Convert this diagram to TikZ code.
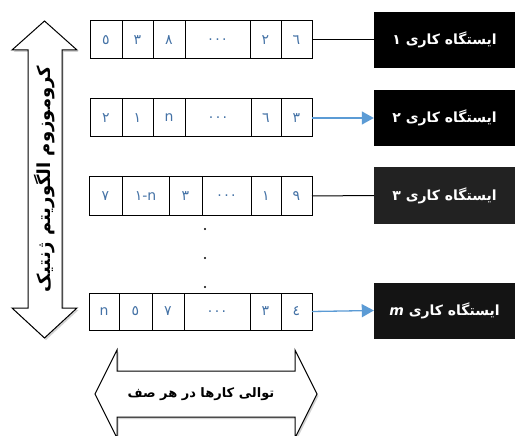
\documentclass[tikz,border=0pt]{standalone}
\usepackage{fontspec}
\setmainfont{DejaVu Sans}
\newfontfamily\arabicfont[Script=Arabic]{DejaVu Sans}
\TeXXeTstate=1
\usetikzlibrary{arrows.meta,shadows}
\definecolor{cellblue}{RGB}{68,114,166}
\definecolor{arrblue}{RGB}{91,155,213}
\begin{document}
\begin{tikzpicture}[x=1pt,y=-1pt,
 cell/.style={draw=black,line width=1pt,rectangle,inner sep=0pt,outer sep=0pt,minimum height=38pt,text=cellblue,font=\arabicfont\fontsize{14}{16}\selectfont},
 station/.style={fill=black,text=white,rectangle,inner sep=0pt,minimum height=56pt,minimum width=141pt,font=\arabicfont\bfseries\fontsize{14}{16}\selectfont},
 plainlink/.style={draw=black,line width=1pt},
 bluelink/.style={draw=arrblue,line width=1.3pt,-{Triangle[length=12pt,width=13pt]}},
 bigarrow/.style={draw=black,line width=1pt,fill=white,drop shadow={shadow xshift=1.5pt,shadow yshift=-2pt,opacity=0.35}},
 arrowtext/.style={font=\arabicfont\bfseries\fontsize{13}{15}\selectfont}
]
\useasboundingbox (0,0) rectangle (515,436);
\fill[white] (0,0) rectangle (515,436);

% row 1
\node[cell,minimum width=32pt] (a1) at (106,40) {٥};
\node[cell,minimum width=31pt] (a2) at (137.5,40) {٣};
\node[cell,minimum width=32pt] (a3) at (169,40) {٨};
\node[cell,minimum width=65pt] (a4) at (217.5,40) {.\,.\,.};
\node[cell,minimum width=31pt] (a5) at (265.5,40) {٢};
\node[cell,minimum width=31pt] (a6) at (296.5,40) {٦};
% row 2
\node[cell,minimum width=32pt] (b1) at (106,118) {٢};
\node[cell,minimum width=31pt] (b2) at (137.5,118) {١};
\node[cell,minimum width=32pt] (b3) at (169,118) {n};
\node[cell,minimum width=66pt] (b4) at (218,118) {.\,.\,.};
\node[cell,minimum width=30pt] (b5) at (266,118) {٦};
\node[cell,minimum width=31pt] (b6) at (296.5,118) {٣};
% row 3
\node[cell,minimum width=33pt] (c1) at (105.5,196) {٧};
\node[cell,minimum width=47pt] (c2) at (145.5,196) {١-n};
\node[cell,minimum width=33pt] (c3) at (185.5,196) {٣};
\node[cell,minimum width=49pt] (c4) at (226.5,196) {.\,.\,.};
\node[cell,minimum width=30pt] (c5) at (266,196) {١};
\node[cell,minimum width=31pt] (c6) at (296.5,196) {٩};
% row 4
\node[cell,minimum width=30pt,minimum height=37pt] (d1) at (104,311.5) {n};
\node[cell,minimum width=33pt,minimum height=37pt] (d2) at (135.5,311.5) {٥};
\node[cell,minimum width=32pt,minimum height=37pt] (d3) at (168,311.5) {٧};
\node[cell,minimum width=66pt,minimum height=37pt] (d4) at (217,311.5) {.\,.\,.};
\node[cell,minimum width=31pt,minimum height=37pt] (d5) at (265.5,311.5) {٣};
\node[cell,minimum width=31pt,minimum height=37pt] (d6) at (296.5,311.5) {٤};

% vertical dots
\fill (205,229) circle (1.1pt);
\fill (205,258) circle (1.1pt);
\fill (205,287) circle (1.1pt);

% stations
\node[station] (s1) at (444.5,40) {\beginR ایستگاه کاری ۱\endR};
\node[station] (s2) at (444.5,118) {\beginR ایستگاه کاری ۲\endR};
\node[station,fill={rgb,255:red,34;green,34;blue,34}] (s3) at (444.5,195.5) {\beginR ایستگاه کاری ۳\endR};
\node[station,fill={rgb,255:red,20;green,20;blue,20}] (s4) at (444.5,310.5) {\beginR ایستگاه کاری {\fontspec{DejaVu Sans}\bfseries\itshape m}\endR};

% links
\draw[plainlink] (a6.east) -- (s1.west);
\draw[bluelink] (b6.east) -- (s2.west);
\draw[plainlink] (c6.east) -- (s3.west);
\draw[bluelink] (d6.east) -- (s4.west);

% vertical double arrow
\draw[bigarrow] (44.5,21) -- (77,50) -- (62,50) -- (62,308) -- (77,308) -- (44.5,338) -- (12,308) -- (28,308) -- (28,50) -- (12,50) -- cycle;
\node[arrowtext,font=\arabicfont\bfseries\fontsize{18}{20}\selectfont,rotate=90] (vt) at (45,179) {\beginR کروموزوم الگوریتم ژنتیک\endR};

% horizontal double arrow
\draw[bigarrow] (95,394) -- (117,350) -- (117,371) -- (295,371) -- (295,350) -- (317,394) -- (295,438) -- (295,417) -- (117,417) -- (117,438) -- cycle;
\node[arrowtext] (ht) at (201,394) {\beginR توالی کارها در هر صف\endR};
\end{tikzpicture}
\end{document}
